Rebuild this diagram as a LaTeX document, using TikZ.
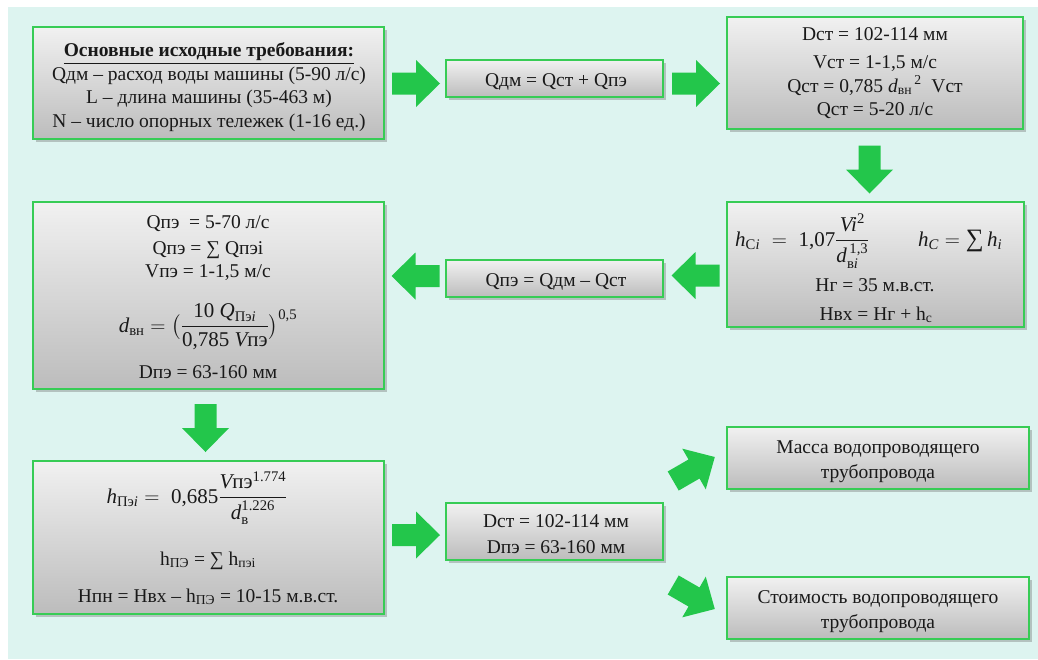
\documentclass[tikz,border=0pt]{standalone}
\usepackage{fix-cm}
\usepackage{amsmath}
\usepackage{fontspec}
\setmainfont{Liberation Serif}
\usetikzlibrary{shadows}
\definecolor{bgmint}{RGB}{221,244,240}
\definecolor{agreen}{RGB}{35,198,75}
\definecolor{bgreen}{RGB}{55,204,85}
\definecolor{boxtop}{RGB}{241,241,241}
\definecolor{boxbot}{RGB}{188,188,188}
\definecolor{ink}{RGB}{25,25,25}
\newcommand\iv[1]{\text{\itshape #1}}
\tikzset{
  box/.style={draw=bgreen, line width=2pt, top color=boxtop, bottom color=boxbot,
    drop shadow={shadow xshift=2.5pt, shadow yshift=-2.5pt, opacity=0.35, fill=black!60},
    inner sep=0pt},
  txt/.style={inner sep=0pt, anchor=base, text=ink, font=\fontsize{19.5}{23}\selectfont},
  mtxt/.style={txt, font=\fontsize{21}{25}\selectfont},
  blockarrow/.pic={\fill[agreen] (-24,-11) -- (0,-11) -- (0,-23.5) -- (24,0) -- (0,23.5) -- (0,11) -- (-24,11) -- cycle;}
}
\begin{document}
\begin{tikzpicture}[x=1pt,y=-1pt]
\useasboundingbox (0,0) rectangle (1038,659);
\fill[white] (0,0) rectangle (1038,659);
\fill[bgmint] (8,7) rectangle (1038,659);

% boxes
\node[box, minimum width=351pt, minimum height=112pt] (b1) at (208.5,83) {};
\node[box, minimum width=217pt, minimum height=37pt] (b2) at (554.5,78.5) {};
\node[box, minimum width=296pt, minimum height=112pt] (b3) at (875,73) {};
\node[box, minimum width=297pt, minimum height=125pt] (b4) at (875.5,264.5) {};
\node[box, minimum width=217pt, minimum height=37pt] (b5) at (554.5,278.5) {};
\node[box, minimum width=351pt, minimum height=187pt] (b6) at (208.5,295.5) {};
\node[box, minimum width=351pt, minimum height=153pt] (b7) at (208.5,537.5) {};
\node[box, minimum width=217pt, minimum height=57pt] (b8) at (554.5,531.5) {};
\node[box, minimum width=302pt, minimum height=62pt] (b9) at (878,458) {};
\node[box, minimum width=302pt, minimum height=62pt] (b10) at (878,608) {};

% block arrows
\pic (a1) at (416,83.5) {blockarrow};
\pic (a2) at (696,83.5) {blockarrow};
\pic[rotate=-90] (a3) at (869.5,169.5) {blockarrow};
\pic[rotate=180] (a4) at (695.5,275.5) {blockarrow};
\pic[rotate=180] (a5) at (415.5,276) {blockarrow};
\pic[rotate=-90] (a6) at (205.5,428) {blockarrow};
\pic (a7) at (416,535) {blockarrow};
\pic[rotate=30] (a8) at (694,469) {blockarrow};
\pic[rotate=-30] (a9) at (694,597) {blockarrow};

% box 1
\node[txt] (t1a) at (209,56.5) {\underline{\textbf{Основные исходные требования:}}};
\node[txt] (t1b) at (209,80) {Qдм – расход воды машины (5-90 л/с)};
\node[txt] (t1c) at (209,103.6) {L – длина машины (35-463 м)};
\node[txt] (t1d) at (209,127.2) {N – число опорных тележек (1-16 ед.)};

% box 2
\node[txt] (t2) at (556,86.5) {Qдм = Qст + Qпэ};

% box 3
\node[txt] (t3a) at (875,40) {Dст = 102-114 мм};
\node[txt] (t3b) at (875,68) {Vст = 1-1,5 м/с};
\node[txt] (t3c) at (875,92) {Qст = 0,785 \textit{d}\textsubscript{вн}\textsuperscript{\,2}\ \ Vст};
\node[txt] (t3d) at (875,115) {Qст = 5-20 л/с};

% box 4
\node[mtxt, anchor=base west] (t4a) at (735,246) {$\iv{h}_{\text{С}\iv{i}} \;=\; \text{1,07}\dfrac{\rule[-5pt]{0pt}{5pt}\iv{Vi}^{\text{2}}}{\rule{0pt}{19pt}\iv{d}^{\,\text{1,3}}_{\text{в}\iv{i}}}$};
\node[mtxt, anchor=base west] (t4b) at (918,246) {$\iv{h}_{\iv{C}} = \text{\fontsize{25}{25}\selectfont ∑}\, \iv{h}_{\iv{i}}$};
\node[txt] (t4c) at (875,291.5) {Нг = 35 м.в.ст.};
\node[txt] (t4d) at (876,320) {Нвх = Нг + h\textsubscript{с}};

% box 5
\node[txt] (t5) at (556,286.5) {Qпэ = Qдм – Qст};

% box 6
\node[txt] (t6a) at (208,228) {Qпэ\ \ = 5-70 л/с};
\node[txt] (t6b) at (208,254) {Qпэ = ∑ Qпэi};
\node[txt] (t6c) at (208,277) {Vпэ = 1-1,5 м/с};
\node[mtxt] (t6d) at (208,332) {$\iv{d}_{\text{вн}} = \bigl(\dfrac{\text{10 }\iv{Q}_{\text{Пэ}\iv{i}}}{\text{0,785 }\iv{V}\text{пэ}}\bigr)^{\text{0,5}}$};
\node[txt] (t6e) at (208,378) {Dпэ = 63-160 мм};

% box 7
\node[mtxt] (t7a) at (197,503) {$\iv{h}_{\text{Пэ}\iv{i}} =\; \text{0,685}\dfrac{\iv{V}\text{пэ}^{\text{1.774}}}{\rule{0pt}{17pt}\iv{d}_{\text{в}}^{\text{1.226}}}$};
\node[txt] (t7b) at (208,565) {h\textsubscript{ПЭ} = ∑ h\textsubscript{пэi}};
\node[txt] (t7c) at (208,602) {Нпн = Нвх – h\textsubscript{ПЭ} = 10-15 м.в.ст.};

% box 8
\node[txt] (t8a) at (556,527.5) {Dст = 102-114 мм};
\node[txt] (t8b) at (556,553) {Dпэ = 63-160 мм};

% box 9, 10
\node[txt] (t9a) at (878,453) {Масса водопроводящего};
\node[txt] (t9b) at (878,478) {трубопровода};
\node[txt] (t10a) at (878,603) {Стоимость водопроводящего};
\node[txt] (t10b) at (878,628) {трубопровода};
\end{tikzpicture}
\end{document}
